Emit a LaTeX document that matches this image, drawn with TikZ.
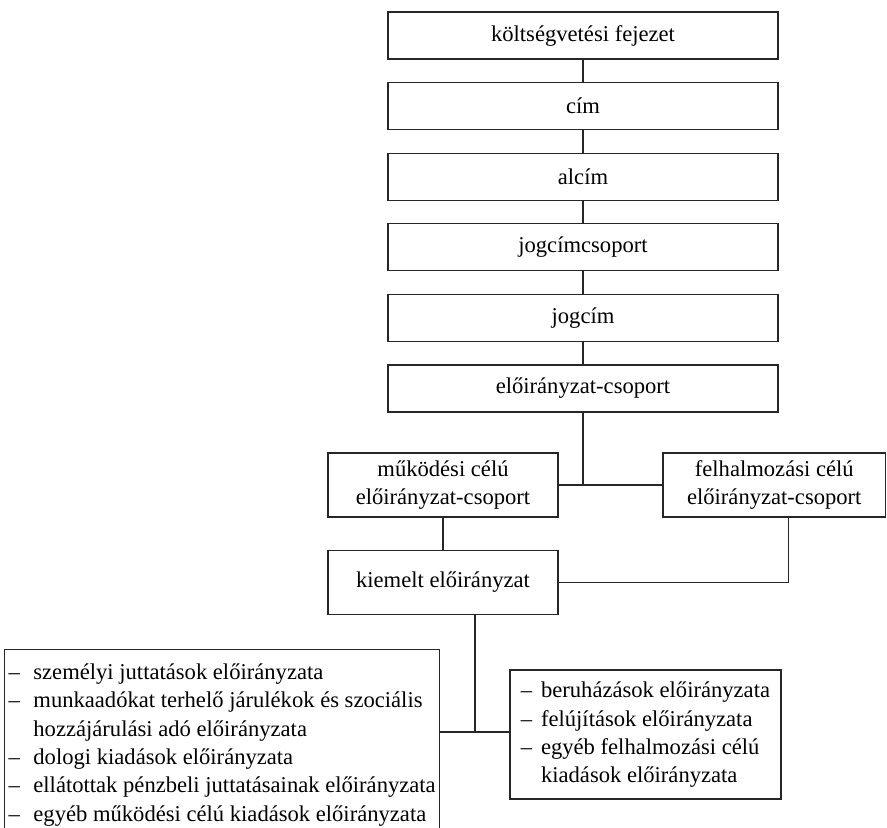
\documentclass[tikz,border=0pt]{standalone}
\usepackage{fontspec}
\setmainfont{Liberation Serif}
\usepackage{tikz}

\tikzset{
        box/.style={draw=black!85, line width=0.6pt, inner sep=0pt, align=center, font=\fontsize{11.3}{14.15}\selectfont},
        topbox/.style={box, minimum width=195pt, minimum height=23.5pt},
        midbox/.style={box, minimum width=115pt, minimum height=32pt},
        link/.style={black!85, line width=0.6pt}
}

\begin{document}
\begin{tikzpicture}[x=0.5pt, y=-0.5pt]
        \clip (0,0) rectangle (887,828);

        \node[topbox] (fejezet) at (583, 35.5) {költségvetési fejezet};
        \node[topbox] (cim) at (583, 106.1) {cím};
        \node[topbox] (alcim) at (583, 176.7) {alcím};
        \node[topbox] (jcsoport) at (583, 247.3) {jogcímcsoport};
        \node[topbox] (jogcim) at (583, 317.9) {jogcím};
        \node[topbox] (ecsoport) at (583, 388.5) {előirányzat-csoport};

        \node[midbox] (mukodesi) at (443, 485) {működési célú\\előirányzat-csoport};
        \node[midbox, minimum width=111.25pt] (felhalm) at (774.25, 485) {felhalmozási célú\\előirányzat-csoport};
        \node[midbox] (kiemelt) at (443, 582.5) {kiemelt előirányzat};

        \node[box, anchor=north west, minimum width=217.5pt, minimum height=95pt] (mlista) at (4, 649) {%
                \begin{tabular}{@{}l@{\hspace{6.8pt}}l@{}}
                – & személyi juttatások előirányzata\\
                – & munkaadókat terhelő járulékok és szociális\\
                  & hozzájárulási adó előirányzata\\
                – & dologi kiadások előirányzata\\
                – & ellátottak pénzbeli juttatásainak előirányzata\\
                – & egyéb működési célú kiadások előirányzata
                \end{tabular}};
        \node[box, minimum width=135.5pt, minimum height=64.5pt] (flista) at (645.5, 734.5) {%
                \begin{tabular}{@{}l@{\hspace{4.4pt}}l@{}}
                – & beruházások előirányzata\\
                – & felújítások előirányzata\\
                – & egyéb felhalmozási célú\\
                  & kiadások előirányzata
                \end{tabular}};

        \coordinate(j1) at (583, 485);
        \coordinate(j2) at (475, 732);

        \draw[link] (fejezet) -- (cim);
        \draw[link] (cim) -- (alcim);
        \draw[link] (alcim) -- (jcsoport);
        \draw[link] (jcsoport) -- (jogcim);
        \draw[link] (jogcim) -- (ecsoport);
        \draw[link] (ecsoport) -- (j1);
        \draw[link] (mukodesi.east) -- (felhalm.west);

        \draw[link] (mukodesi) -- (kiemelt);
        \draw[link] ([xshift=7.25pt]felhalm.south) |- (kiemelt.east);

        \draw[link] (kiemelt.south -| j2) -- (j2);
        \draw[link] (mlista.east |- j2) -- (flista.west |- j2);
\end{tikzpicture}
\end{document}
